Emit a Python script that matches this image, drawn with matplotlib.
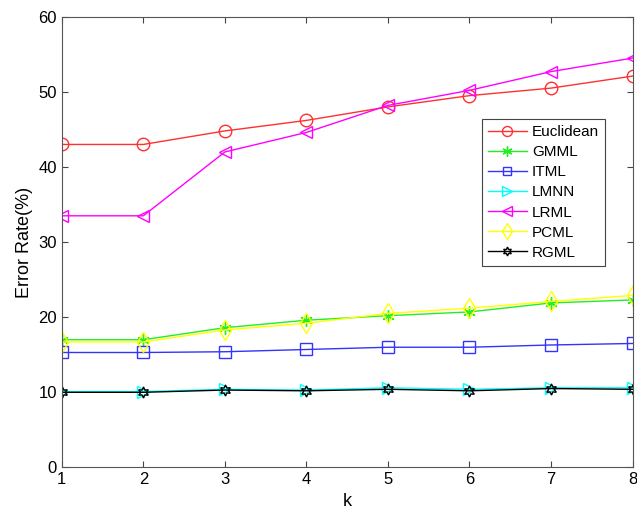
import matplotlib.pyplot as plt

plt.rcParams['font.family'] = ['Liberation Sans', 'DejaVu Sans']

k = [1, 2, 3, 4, 5, 6, 7, 8]

euclidean = [43.0, 43.0, 44.8, 46.2, 48.0, 49.5, 50.5, 52.1]
gmml = [17.0, 17.0, 18.6, 19.6, 20.2, 20.7, 21.9, 22.3]
itml = [15.3, 15.3, 15.4, 15.7, 16.0, 16.0, 16.3, 16.5]
lmnn = [10.1, 10.1, 10.4, 10.3, 10.6, 10.4, 10.6, 10.6]
lrml = [33.5, 33.5, 42.0, 44.6, 48.2, 50.2, 52.7, 54.5]
pcml = [16.7, 16.7, 18.3, 19.2, 20.5, 21.2, 22.1, 22.9]
rgml = [10.0, 10.0, 10.3, 10.2, 10.4, 10.2, 10.5, 10.4]

labels = ['Euclidean', 'GMML', 'ITML', 'LMNN', 'LRML', 'PCML', 'RGML']
series = [euclidean, gmml, itml, lmnn, lrml, pcml, rgml]
colors = ['#ff3030', '#22ee22', '#3333ff', '#00ffff', '#ff00ff', '#ffff00', '#000000']
markers = ['o', (6, 2, 0), 's', '>', '<', 'd', (6, 1, 0)]
sizes = [9, 9, 8, 9, 9, 10, 8]

fig = plt.figure(figsize=(6.37, 5.24), dpi=100)
ax = fig.add_axes([0.097, 0.108, 0.896, 0.86])

for y, lab, c, m, s in zip(series, labels, colors, markers, sizes):
    ax.plot(k, y, color=c, marker=m, markersize=s, markerfacecolor='none',
            markeredgecolor=c, linewidth=1.0, label=lab)

ax.set_xlim(1, 8)
ax.set_ylim(0, 60)
ax.set_xticks(k)
ax.set_yticks([0, 10, 20, 30, 40, 50, 60])
ax.tick_params(direction='in', labelsize=12, top=True, right=True, length=4, color='#444444')
for sp in ax.spines.values():
    sp.set_color('#555555')
ax.set_xlabel('k', fontsize=13)
ax.set_ylabel('Error Rate(%)', fontsize=13)

leg = ax.legend(loc='upper left', bbox_to_anchor=(0.722, 0.79), fontsize=11,
                fancybox=False, edgecolor='#444444', framealpha=1,
                handlelength=2.6, handletextpad=0.3, markerscale=0.8,
                borderpad=0.4, labelspacing=0.4)
leg.get_frame().set_linewidth(0.8)

plt.savefig('out.png', dpi=100)
